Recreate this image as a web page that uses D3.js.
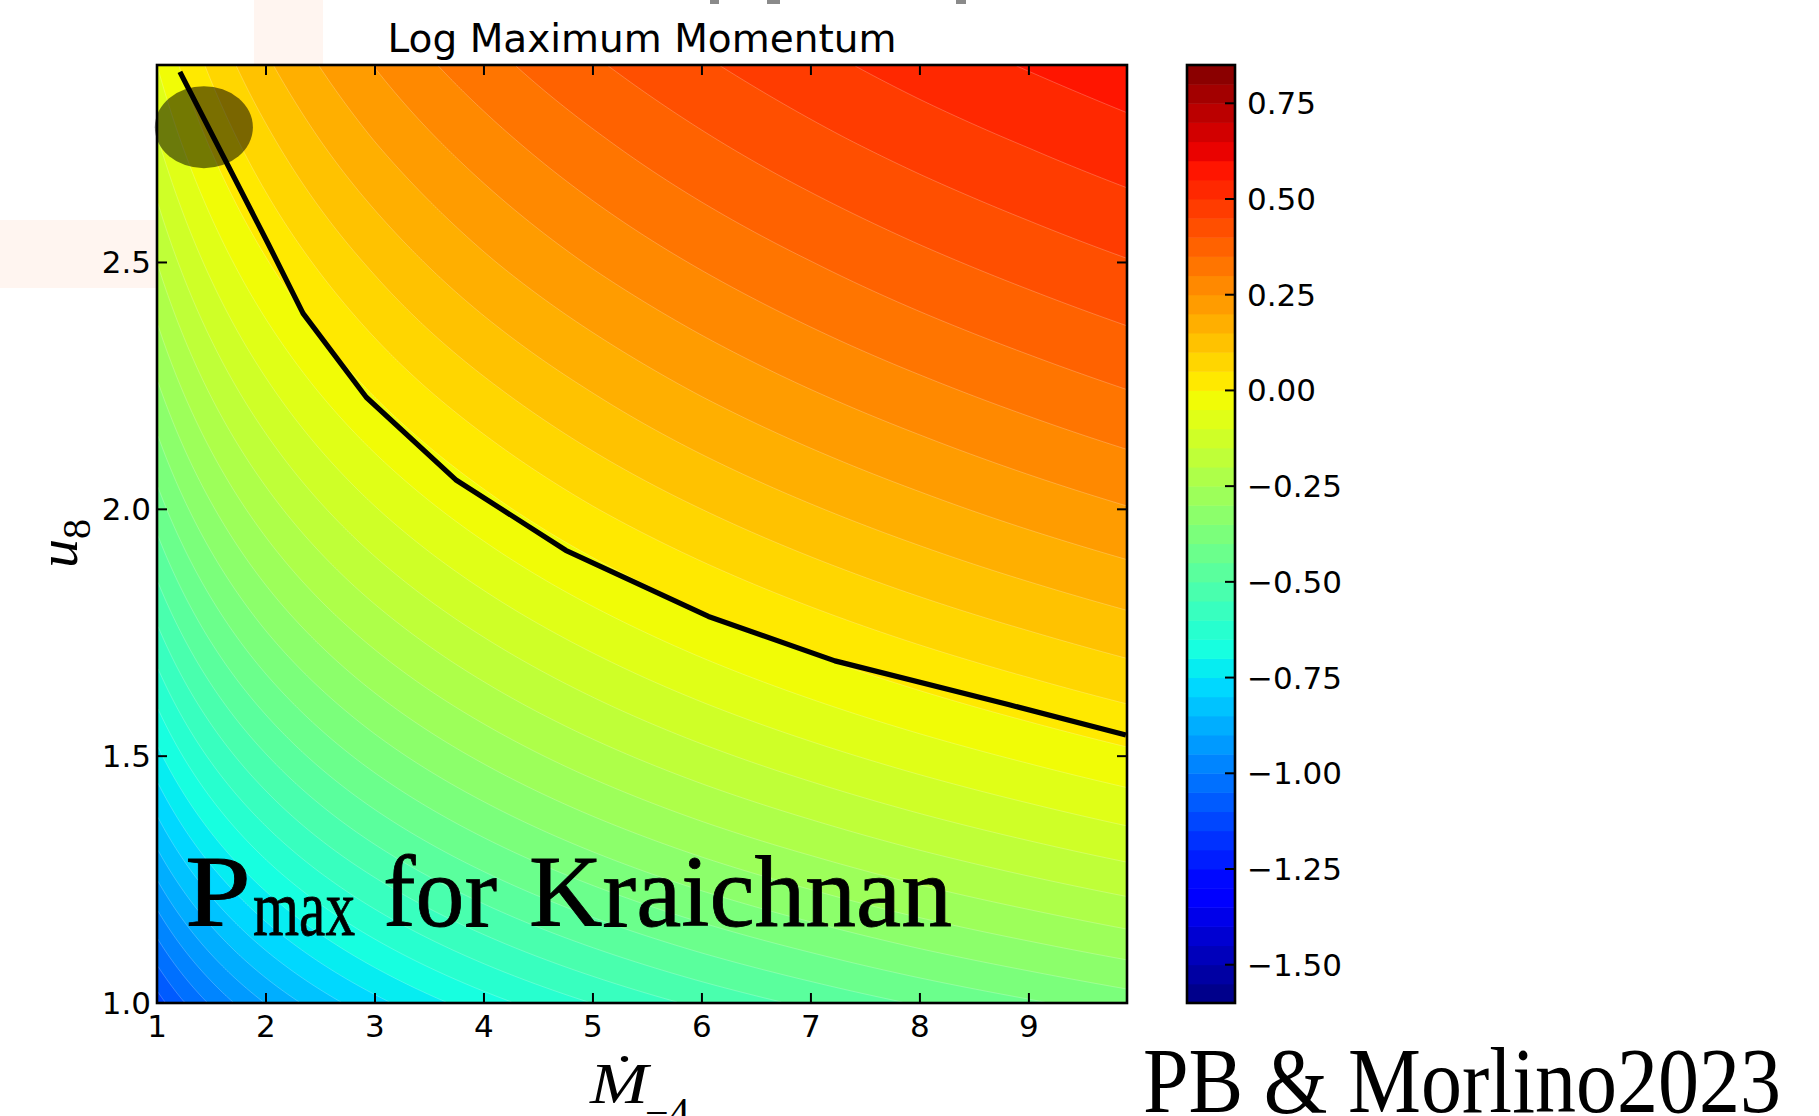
<!DOCTYPE html>
<html>
<head>
<meta charset="utf-8">
<script src="https://cdn.jsdelivr.net/npm/d3@7"></script>
<style>
  html, body { margin: 0; padding: 0; background: #fff; }
  svg { display: block; }
</style>
</head>
<body>
<svg id="chart" width="1819" height="1116"></svg>
<script>
// ---- data -------------------------------------------------------------
// grid nodes: mass-loss rate (Mdot_-4) and wind speed (u_8)
const mdotNodes = [1, 2, 3, 4, 5, 6, 7, 8, 9, 9.9];
const u8Nodes   = [1.0, 1.25, 1.5, 1.75, 2.0, 2.25, 2.5, 2.75, 2.9];

// log10 of the maximum momentum (PeV), one row per u8 node
const logPmaxRow100 = [-1.125, -0.898, -0.766, -0.672, -0.599, -0.539, -0.489, -0.445, -0.407, -0.375];
const logPmaxRow125 = [-0.900, -0.681, -0.553, -0.462, -0.391, -0.333, -0.285, -0.242, -0.205, -0.175];
const logPmaxRow150 = [-0.715, -0.503, -0.378, -0.290, -0.221, -0.165, -0.118, -0.077, -0.041, -0.011];
const logPmaxRow175 = [-0.560, -0.352, -0.231, -0.145, -0.078, -0.023,  0.023,  0.063,  0.098,  0.127];
const logPmaxRow200 = [-0.425, -0.222, -0.103, -0.019,  0.047,  0.100,  0.145,  0.184,  0.219,  0.247];
const logPmaxRow225 = [-0.306, -0.107,  0.010,  0.092,  0.156,  0.209,  0.253,  0.291,  0.325,  0.353];
const logPmaxRow250 = [-0.200, -0.004,  0.110,  0.192,  0.255,  0.306,  0.349,  0.387,  0.420,  0.447];
const logPmaxRow275 = [-0.103,  0.089,  0.202,  0.281,  0.343,  0.394,  0.437,  0.474,  0.506,  0.533];
const logPmaxRow290 = [-0.050,  0.141,  0.252,  0.331,  0.393,  0.443,  0.485,  0.522,  0.554,  0.580];
const logPmaxRows = [logPmaxRow100, logPmaxRow125, logPmaxRow150, logPmaxRow175, logPmaxRow200,
                     logPmaxRow225, logPmaxRow250, logPmaxRow275, logPmaxRow290];

// 1 PeV curve
const pevLineMdot = [1.21, 2.02, 2.34, 2.92, 3.74, 4.75, 6.06, 7.22, 8.82, 9.89];
const pevLineU8   = [2.886, 2.538, 2.397, 2.227, 2.060, 1.917, 1.783, 1.693, 1.604, 1.543];

// filled-contour levels
const levelMin = -1.6, levelStep = 0.05, levelCount = 50;
const levels = d3.range(levelCount).map(i => +(levelMin + levelStep * i).toFixed(2));

const xTicks  = [1, 2, 3, 4, 5, 6, 7, 8, 9];
const yTicks  = [1.0, 1.5, 2.0, 2.5];
const cbTicks = [0.75, 0.50, 0.25, 0.00, -0.25, -0.50, -0.75, -1.00, -1.25, -1.50];

const titleText = "Log Maximum Momentum";

// highlighted region (centre and half-widths in data units)
const spotCenter = [1.43, 2.774];
const spotRadii  = [0.45, 0.083];

// ---- layout -----------------------------------------------------------
const svg = d3.select("#chart");
const plot = { left: 157, top: 65, right: 1127, bottom: 1003 };
const W = plot.right - plot.left, H = plot.bottom - plot.top;
const cb = { left: 1187, right: 1235, top: 65, bottom: 1003 };

const x = d3.scaleLinear().domain([1, 9.9]).range([plot.left, plot.right]);
const y = d3.scaleLinear().domain([1, 2.9]).range([plot.bottom, plot.top]);
const zmin = levels[0], zmax = levels[levels.length - 1];
const cbY = d3.scaleLinear().domain([zmin, zmax]).range([cb.bottom, cb.top]);

// jet colormap as three piecewise-linear channels
const jetR = d3.scaleLinear().domain([0, 0.35, 0.66, 0.89, 1]).range([0, 0, 1, 1, 0.5]).clamp(true);
const jetG = d3.scaleLinear().domain([0, 0.125, 0.375, 0.64, 0.91, 1]).range([0, 0, 1, 1, 0, 0]).clamp(true);
const jetB = d3.scaleLinear().domain([0, 0.11, 0.34, 0.65, 1]).range([0.5, 1, 1, 0, 0]).clamp(true);
const norm = d3.scaleLinear().domain([zmin, zmax]).range([0, 1]);
function jet(t) {
  return d3.rgb(Math.round(255 * jetR(t)), Math.round(255 * jetG(t)), Math.round(255 * jetB(t))).toString();
}
const bandColor = lo => jet(norm(lo + levelStep / 2));

// ---- faint background panels and clipped heading strokes --------------
svg.append("rect").attr("x", 254).attr("y", 0).attr("width", 69).attr("height", 66).attr("fill", "#fff5f0");
svg.append("rect").attr("x", 0).attr("y", 220).attr("width", 158).attr("height", 68).attr("fill", "#fff5f0");
[[710, 9], [767, 13], [956, 10]].forEach(([px, pw]) => {
  svg.append("rect").attr("x", px).attr("y", 0).attr("width", pw).attr("height", 4).attr("fill", "#8a8a8a");
});

// ---- field sampling (bilinear in log-log node space) -------------------
const lnX = mdotNodes.map(Math.log), lnY = u8Nodes.map(Math.log);
function cellIndex(arr, v) {
  let i = d3.bisectRight(arr, v) - 1;
  return Math.max(0, Math.min(arr.length - 2, i));
}
function field(mx, uy) {
  const L = Math.log(mx), M = Math.log(uy);
  const i = cellIndex(lnX, L), j = cellIndex(lnY, M);
  const tx = (L - lnX[i]) / (lnX[i + 1] - lnX[i]);
  const ty = (M - lnY[j]) / (lnY[j + 1] - lnY[j]);
  const z00 = logPmaxRows[j][i], z10 = logPmaxRows[j][i + 1];
  const z01 = logPmaxRows[j + 1][i], z11 = logPmaxRows[j + 1][i + 1];
  return (1 - ty) * ((1 - tx) * z00 + tx * z10) + ty * ((1 - tx) * z01 + tx * z11);
}

const nx = Math.round(W / 2), ny = Math.round(H / 2);
const grid = new Float64Array(nx * ny);
for (let j = 0; j < ny; j++) {
  const uy = y.invert(plot.top + (j + 0.5) * H / ny);
  for (let i = 0; i < nx; i++) {
    const mx = x.invert(plot.left + (i + 0.5) * W / nx);
    grid[j * nx + i] = field(mx, uy);
  }
}
const contourSets = d3.contours().size([nx, ny]).thresholds(levels)(grid);
const toPlot = d3.geoTransform({
  point(px, py) { this.stream.point(plot.left + px * W / nx, plot.top + py * H / ny); }
});
const pathGen = d3.geoPath(toPlot);

svg.append("clipPath").attr("id", "plotClip")
  .append("rect").attr("x", plot.left).attr("y", plot.top).attr("width", W).attr("height", H);

const fieldG = svg.append("g").attr("clip-path", "url(#plotClip)");
fieldG.append("rect").attr("x", plot.left).attr("y", plot.top).attr("width", W).attr("height", H)
  .attr("fill", bandColor(levels[0]));
fieldG.selectAll("path.band")
  .data(contourSets.filter(c => c.coordinates.length))
  .join("path")
  .attr("class", "band")
  .attr("d", pathGen)
  .attr("fill", d => bandColor(d.value))
  .attr("stroke", "#ffffff")
  .attr("stroke-opacity", d => d.value === levels[0] ? 0 : 0.28)
  .attr("stroke-width", 0.8);

// ---- 1 PeV curve -------------------------------------------------------
const pevLine = d3.line().x(d => x(d[0])).y(d => y(d[1]));
fieldG.append("path")
  .datum(pevLineMdot.map((m, i) => [m, pevLineU8[i]]))
  .attr("d", pevLine)
  .attr("fill", "none")
  .attr("stroke", "#000")
  .attr("stroke-width", 5.2)
  .attr("stroke-linejoin", "round");

// ---- highlight spot ----------------------------------------------------
svg.append("ellipse")
  .attr("cx", x(spotCenter[0])).attr("cy", y(spotCenter[1]))
  .attr("rx", x(1 + spotRadii[0]) - x(1)).attr("ry", y(1) - y(1 + spotRadii[1]))
  .attr("fill", "#000").attr("fill-opacity", 0.52);

// ---- frame and ticks ---------------------------------------------------
const tickLen = 10;
const axisG = svg.append("g").attr("stroke", "#000").attr("stroke-width", 2);
xTicks.forEach(t => {
  axisG.append("line").attr("x1", x(t)).attr("x2", x(t)).attr("y1", plot.bottom).attr("y2", plot.bottom - tickLen);
  axisG.append("line").attr("x1", x(t)).attr("x2", x(t)).attr("y1", plot.top).attr("y2", plot.top + tickLen);
});
yTicks.forEach(t => {
  axisG.append("line").attr("y1", y(t)).attr("y2", y(t)).attr("x1", plot.left).attr("x2", plot.left + tickLen);
  axisG.append("line").attr("y1", y(t)).attr("y2", y(t)).attr("x1", plot.right).attr("x2", plot.right - tickLen);
});
svg.append("rect").attr("x", plot.left).attr("y", plot.top).attr("width", W).attr("height", H)
  .attr("fill", "none").attr("stroke", "#000").attr("stroke-width", 2.6);

const tickFont = "'DejaVu Sans', sans-serif";
svg.append("g").selectAll("text").data(xTicks).join("text")
  .attr("x", d => x(d)).attr("y", 1037)
  .attr("text-anchor", "middle").attr("font-family", tickFont).attr("font-size", 31)
  .text(d => d3.format("d")(d));
svg.append("g").selectAll("text").data(yTicks).join("text")
  .attr("x", 151).attr("y", d => y(d) + 11)
  .attr("text-anchor", "end").attr("font-family", tickFont).attr("font-size", 31)
  .text(d => d3.format(".1f")(d));

// ---- title -------------------------------------------------------------
svg.append("text")
  .attr("x", (plot.left + plot.right) / 2).attr("y", 52)
  .attr("text-anchor", "middle").attr("font-family", tickFont).attr("font-size", 39)
  .text(titleText);

// ---- axis labels -------------------------------------------------------
const mathFont = "'Liberation Serif', 'DejaVu Serif', serif";
svg.append("text").attr("x", 590).attr("y", 1103)
  .attr("font-family", mathFont).attr("font-style", "italic").attr("font-size", 58)
  .attr("textLength", 58).attr("lengthAdjust", "spacingAndGlyphs")
  .text("\u1E40");
svg.append("text").attr("x", 645).attr("y", 1127)
  .attr("font-family", mathFont).attr("font-size", 42).text("\u22124");

const yLab = svg.append("text")
  .attr("transform", "translate(77,568) rotate(-90)")
  .attr("font-family", mathFont).attr("font-size", 58);
yLab.append("tspan").attr("font-style", "italic").text("u");
yLab.append("tspan").attr("font-size", 40).attr("dy", 13).text("8");

// ---- colorbar ----------------------------------------------------------
const cbG = svg.append("g");
cbG.selectAll("rect").data(levels.slice(0, -1)).join("rect")
  .attr("x", cb.left).attr("width", cb.right - cb.left)
  .attr("y", d => cbY(d + levelStep)).attr("height", d => cbY(d) - cbY(d + levelStep) + 0.5)
  .attr("fill", d => bandColor(d));
cbTicks.forEach(t => {
  cbG.append("line").attr("x1", cb.right).attr("x2", cb.right - tickLen)
    .attr("y1", cbY(t)).attr("y2", cbY(t)).attr("stroke", "#000").attr("stroke-width", 2);
});
cbG.append("rect").attr("x", cb.left).attr("y", cb.top)
  .attr("width", cb.right - cb.left).attr("height", cb.bottom - cb.top)
  .attr("fill", "none").attr("stroke", "#000").attr("stroke-width", 2.6);
cbG.selectAll("text").data(cbTicks).join("text")
  .attr("x", 1247).attr("y", d => cbY(d) + 11)
  .attr("font-family", tickFont).attr("font-size", 31)
  .text(d => d3.format(".2f")(d).replace("-", "\u2212"));

// ---- captions ----------------------------------------------------------
const capFont = "'Liberation Serif', 'DejaVu Serif', serif";
const cap = svg.append("g").attr("font-family", capFont).attr("fill", "#000")
  .attr("stroke", "#000").attr("stroke-width", 0.8);
cap.append("text").attr("x", 185).attr("y", 926).attr("font-size", 102)
  .attr("textLength", 66).attr("lengthAdjust", "spacingAndGlyphs").text("P");
cap.append("text").attr("x", 253).attr("y", 935).attr("font-size", 80)
  .attr("textLength", 102).attr("lengthAdjust", "spacingAndGlyphs").text("max");
cap.append("text").attr("x", 383).attr("y", 926).attr("font-size", 102)
  .attr("textLength", 114).attr("lengthAdjust", "spacingAndGlyphs").text("for");
cap.append("text").attr("x", 529).attr("y", 926).attr("font-size", 102)
  .attr("textLength", 423).attr("lengthAdjust", "spacingAndGlyphs").text("Kraichnan");
svg.append("text").attr("x", 1143).attr("y", 1112).attr("font-size", 94)
  .attr("font-family", capFont)
  .attr("textLength", 638).attr("lengthAdjust", "spacingAndGlyphs").text("PB & Morlino2023");
</script>
</body>
</html>
